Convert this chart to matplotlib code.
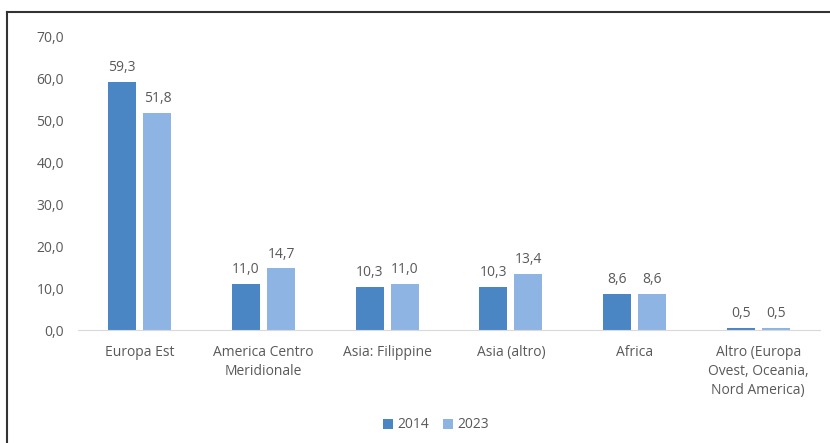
#! /usr/bin/env python3
# -*- coding: utf-8 -*-

import numpy as np
import matplotlib
matplotlib.use('Agg')
import matplotlib.pyplot as plt
from matplotlib.lines import Line2D

categories = ['Europa Est', 'America Centro\nMeridionale', 'Asia: Filippine',
              'Asia (altro)', 'Africa',
              'Altro (Europa\nOvest, Oceania,\nNord America)']
values_2014 = [59.3, 11.0, 10.3, 10.3, 8.6, 0.5]
values_2023 = [51.8, 14.7, 11.0, 13.4, 8.6, 0.5]
years = ['2014', '2023']
y_ticks = [0, 10, 20, 30, 40, 50, 60, 70]


def fmt(v):
    return f'{v:.1f}'.replace('.', ',')


def main():
    plt.rcParams['font.family'] = ['Open Sans', 'DejaVu Sans']
    text_col = '#595959'
    dark = '#4A86C4'
    light = '#8DB4E2'

    fig = plt.figure(figsize=(8.3, 4.43), dpi=100)
    ax = fig.add_axes([78 / 830, 1 - 330 / 443, 742 / 830, 293 / 443])

    x = np.arange(len(categories))
    w = 0.227
    off = 0.142
    b1 = ax.bar(x - off, values_2014, w, color=dark, label=years[0])
    b2 = ax.bar(x + off, values_2023, w, color=light, label=years[1])

    for bars in (b1, b2):
        for rect in bars:
            h = rect.get_height()
            ax.annotate(fmt(h), (rect.get_x() + rect.get_width() / 2, h),
                        xytext=(0, 5), textcoords='offset points',
                        ha='center', va='bottom', fontsize=10, color=text_col)

    ax.set_xlim(-0.5, len(categories) - 0.5)
    ax.set_ylim(0, 70)
    ax.set_yticks(y_ticks)
    ax.set_yticklabels([fmt(v) for v in y_ticks])
    ax.set_xticks(x)
    ax.set_xticklabels(categories, linespacing=1.35)
    ax.tick_params(axis='both', length=0, colors=text_col, labelsize=10)
    ax.tick_params(axis='y', pad=10)
    ax.tick_params(axis='x', pad=11)

    for s in ['top', 'right', 'left']:
        ax.spines[s].set_visible(False)
    ax.spines['bottom'].set_color('#D9D9D9')

    leg = fig.legend(loc='center', bbox_to_anchor=(436 / 830, 1 - 425 / 443),
                     ncol=2, frameon=False, fontsize=10, handlelength=0.7,
                     handleheight=0.7, handletextpad=0.3, columnspacing=1.0)
    for t in leg.get_texts():
        t.set_color(text_col)

    # border of the original chart box (only left and top visible)
    fig.add_artist(Line2D([7 / 830, 7 / 830], [0, 1 - 12 / 443],
                          transform=fig.transFigure, color='#333333', lw=1.5))
    fig.add_artist(Line2D([7 / 830, 1], [1 - 12 / 443, 1 - 12 / 443],
                          transform=fig.transFigure, color='#333333', lw=1.5))

    fig.savefig('out.png', dpi=100)


if __name__ == '__main__':
    main()
